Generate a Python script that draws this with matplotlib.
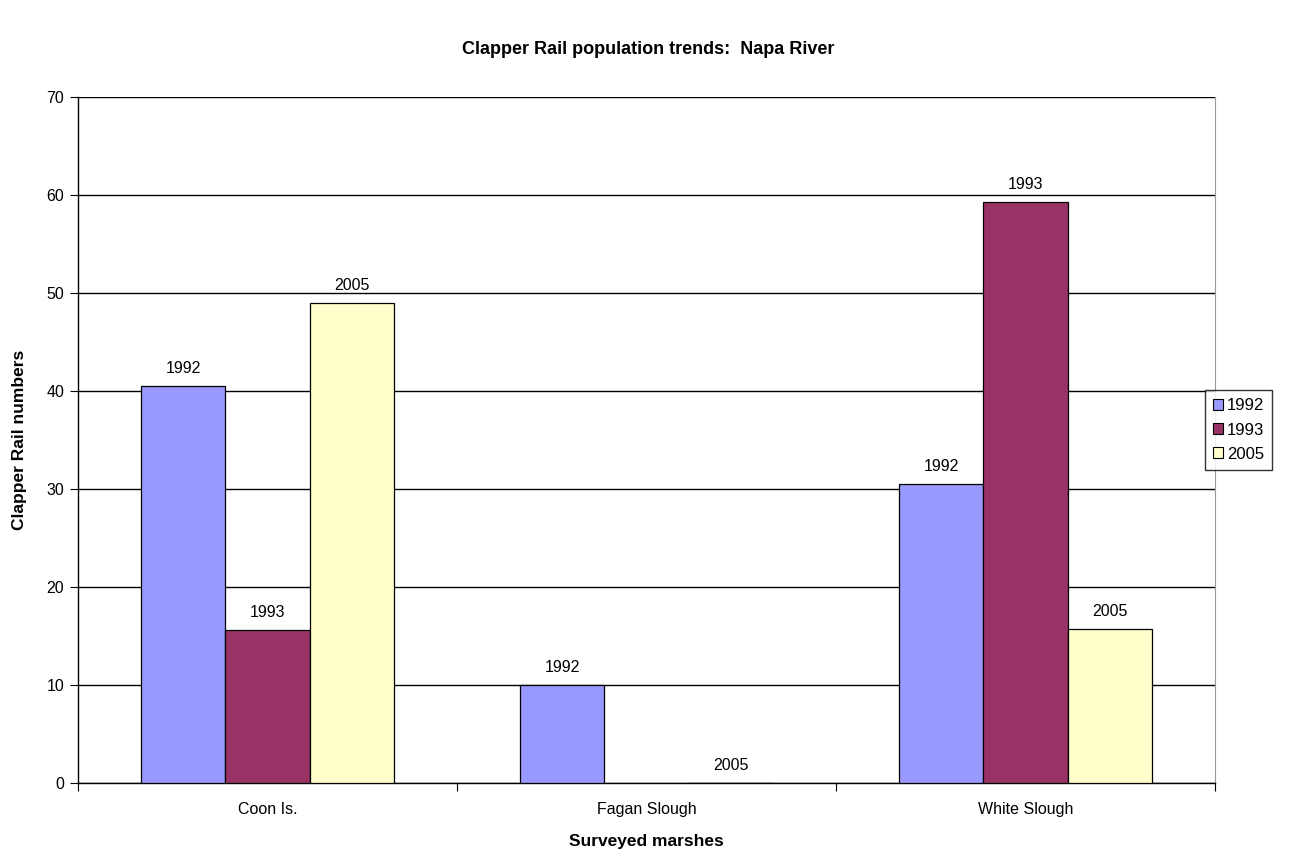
import numpy as np
import matplotlib
matplotlib.use("Agg")
import matplotlib.pyplot as plt
from matplotlib.patches import Patch

plt.rcParams['font.family'] = ['Liberation Sans Narrow', 'Liberation Sans', 'DejaVu Sans']

# data
marshes = ["Coon Is.", "Fagan Slough", "White Slough"]
years = ["1992", "1993", "2005"]
counts_1992 = [40.5, 10.0, 30.5]
counts_1993 = [15.6, np.nan, 59.3]
counts_2005 = [49.0, 0.0, 15.75]
colors = ["#9999FF", "#993366", "#FFFFCC"]

series = [counts_1992, counts_1993, counts_2005]

fig = plt.figure(figsize=(12.96, 8.55), dpi=100)
ax = fig.add_axes([78 / 1296, 1 - 783 / 855, (1215 - 78) / 1296, (783 - 97) / 855])

x = np.arange(len(marshes))
width = 1 / 4.5
for i, (vals, yr, col) in enumerate(zip(series, years, colors)):
    pos = x + (i - 1) * width
    ax.bar(pos, vals, width=width, color=col, edgecolor="black", linewidth=0.9, zorder=3)
    for p, v in zip(pos, vals):
        if np.isnan(v):
            continue
        ax.text(p, v + 1.0, yr, ha="center", va="bottom", fontsize=11.5, zorder=4)

ax.set_xlim(-0.5, 2.5)
ax.set_ylim(0, 70)
ax.set_yticks(range(0, 71, 10))
ax.yaxis.grid(True, color="black", linewidth=1.0, zorder=0)
ax.set_axisbelow(True)

# category ticks sit between groups, labels at group centres
ax.set_xticks([-0.5, 0.5, 1.5, 2.5])
ax.set_xticklabels([])
ax.set_xticks(x, minor=True)
ax.set_xticklabels(marshes, minor=True, fontsize=11.5)
ax.tick_params(axis="x", which="minor", length=0, pad=14)
ax.tick_params(axis="x", which="major", length=6, direction="out")
ax.tick_params(axis="y", length=6, direction="out", labelsize=11.5, pad=4)

for side in ["top", "right"]:
    ax.spines[side].set_color("#999999")
ax.spines["top"].set_visible(False)
ax.spines["left"].set_linewidth(1.0)
ax.spines["bottom"].set_linewidth(1.0)

ax.set_ylabel("Clapper Rail numbers", fontsize=12.5, fontweight="bold", labelpad=14)
ax.set_xlabel("Surveyed marshes", fontsize=12.5, fontweight="bold", labelpad=12)

fig.suptitle("Clapper Rail population trends:  Napa River", fontsize=13,
             fontweight="bold", y=1 - 50 / 855, va="center",
             family=['Liberation Sans', 'DejaVu Sans'])

handles = [Patch(facecolor=c, edgecolor="black", linewidth=0.8) for c in colors]
leg = fig.legend(handles, years, loc="upper left", bbox_to_anchor=(1205 / 1296, 1 - 390 / 855),
                 frameon=True, fancybox=False, edgecolor="black", fontsize=12,
                 handlelength=0.6, handleheight=0.6, handletextpad=0.2,
                 borderpad=0.5, labelspacing=0.55, borderaxespad=0)
leg.get_frame().set_linewidth(1.0)

fig.savefig("out.png", dpi=100)
